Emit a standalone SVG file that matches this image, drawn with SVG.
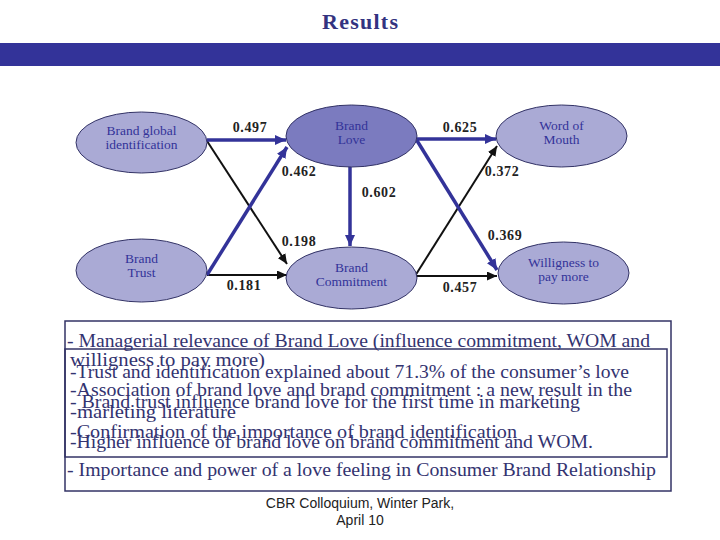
<svg xmlns="http://www.w3.org/2000/svg" width="720" height="540" viewBox="0 0 720 540">
<style>
.node ellipse{fill:#aaaad5;stroke:#333366;stroke-width:1}
.node text{font-family:"Liberation Serif",serif;font-size:13.5px;fill:#333399;text-anchor:middle}
.lbl{font-family:"Liberation Serif",serif;font-size:14px;font-weight:bold;fill:#222222;text-anchor:middle;letter-spacing:0.6px}
.blue{stroke:#333399;stroke-width:3.5;fill:none}
.blk{stroke:#111111;stroke-width:2;fill:none}
.box text{font-family:"Liberation Serif",serif;font-size:18px;fill:#333370}
</style>
<defs>
<marker id="ab" markerUnits="userSpaceOnUse" markerWidth="12" markerHeight="10" refX="11" refY="5" orient="auto"><path d="M0,0 L11,5 L0,10 Z" fill="#333399"/></marker>
<marker id="ak" markerUnits="userSpaceOnUse" markerWidth="11" markerHeight="9" refX="10" refY="4.5" orient="auto"><path d="M0,0 L10,4.5 L0,9 Z" fill="#111111"/></marker>
</defs>
<rect width="720" height="540" fill="#ffffff"/>
<text x="360" y="29" font-family="Liberation Serif,serif" font-size="22" font-weight="bold" fill="#333380" text-anchor="middle" textLength="76">Results</text>
<rect x="0" y="43" width="720" height="23" fill="#333399"/>
<g id="connectors">
<line class="blk" x1="207" y1="141" x2="287" y2="264" marker-end="url(#ak)"/>
<line class="blk" x1="207" y1="275" x2="287" y2="275" marker-end="url(#ak)"/>
<line class="blk" x1="415" y1="276" x2="497" y2="146" marker-end="url(#ak)"/>
<line class="blk" x1="415" y1="276" x2="497" y2="276" marker-end="url(#ak)"/>
<line class="blue" x1="207" y1="140" x2="286" y2="140" marker-end="url(#ab)"/>
<line class="blue" x1="207" y1="275" x2="287" y2="147" marker-end="url(#ab)"/>
<line class="blue" x1="350" y1="166" x2="350" y2="246" marker-end="url(#ab)"/>
<line class="blue" x1="416" y1="139" x2="496" y2="139" marker-end="url(#ab)"/>
<line class="blue" x1="416" y1="139" x2="497" y2="270" marker-end="url(#ab)"/>
</g>
<g id="n-identification" class="node"><ellipse cx="141.5" cy="142.5" rx="65.5" ry="30.5"/><text x="141.5" y="135">Brand global</text><text x="141.5" y="149">identification</text></g>
<g id="n-love" class="node"><ellipse cx="351.5" cy="136" rx="65.5" ry="31" style="fill:#7b7bbf"/><text x="351.5" y="130">Brand</text><text x="351.5" y="144">Love</text></g>
<g id="n-wom" class="node"><ellipse cx="561.5" cy="136" rx="65.5" ry="31"/><text x="561.5" y="130">Word of</text><text x="561.5" y="144">Mouth</text></g>
<g id="n-trust" class="node"><ellipse cx="141.5" cy="270.5" rx="65.5" ry="31.5"/><text x="141.5" y="263">Brand</text><text x="141.5" y="277">Trust</text></g>
<g id="n-commitment" class="node"><ellipse cx="351.5" cy="278" rx="65.5" ry="31"/><text x="351.5" y="272">Brand</text><text x="351.5" y="286">Commitment</text></g>
<g id="n-willingness" class="node"><ellipse cx="563.5" cy="273" rx="65.5" ry="31"/><text x="563.5" y="267">Willigness to</text><text x="563.5" y="281">pay more</text></g>
<g id="labels">
<text class="lbl" x="250" y="132">0.497</text>
<text class="lbl" x="460" y="132">0.625</text>
<text class="lbl" x="299" y="176">0.462</text>
<text class="lbl" x="502" y="176">0.372</text>
<text class="lbl" x="379" y="197">0.602</text>
<text class="lbl" x="299" y="246">0.198</text>
<text class="lbl" x="505" y="240">0.369</text>
<text class="lbl" x="244" y="290">0.181</text>
<text class="lbl" x="460" y="292">0.457</text>
</g>
<g id="box" class="box">
<rect x="65" y="321" width="606" height="170" fill="none" stroke="#333366" stroke-width="1.5"/>
<rect x="65" y="349" width="602" height="108" fill="none" stroke="#333366" stroke-width="1.5"/>
<text x="67" y="347" textLength="583" lengthAdjust="spacingAndGlyphs">- Managerial relevance of Brand Love (influence commitment, WOM and</text>
<text x="70" y="366" textLength="195" lengthAdjust="spacingAndGlyphs">willigness to pay more)</text>
<text x="70" y="378" textLength="559" lengthAdjust="spacingAndGlyphs">-Trust and identification explained about 71.3% of the consumer’s love</text>
<text x="70" y="396" textLength="562" lengthAdjust="spacingAndGlyphs">-Association of brand love and brand commitment : a new result in the</text>
<text x="70" y="408" textLength="510" lengthAdjust="spacingAndGlyphs">- Brand trust influence brand love for the first time in marketing</text>
<text x="70" y="418" textLength="166" lengthAdjust="spacingAndGlyphs">-marleting literature</text>
<text x="70" y="438" textLength="447" lengthAdjust="spacingAndGlyphs">-Confirmation of the importance of brand identification</text>
<text x="70" y="448" textLength="523" lengthAdjust="spacingAndGlyphs">-Higher influence of brand love on brand commitment and WOM.</text>
<text x="67" y="476" textLength="589" lengthAdjust="spacingAndGlyphs">- Importance and power of a love feeling in Consumer Brand Relationship</text>
</g>
<g id="footer" font-family="Liberation Sans,Arial,sans-serif" font-size="14" fill="#222222" text-anchor="middle">
<text x="360" y="508">CBR Colloquium, Winter Park,</text>
<text x="360" y="525">April 10</text>
</g>
</svg>
